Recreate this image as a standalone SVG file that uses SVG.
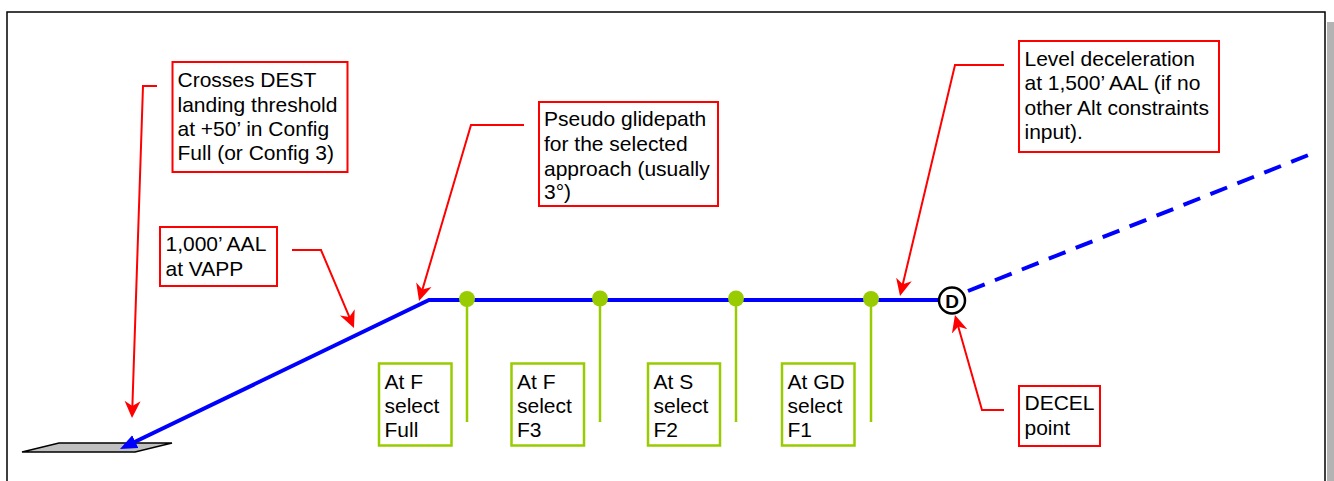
<svg xmlns="http://www.w3.org/2000/svg" width="1334" height="481" viewBox="0 0 1334 481">
<style>
.t{font-family:"Liberation Sans",Arial,sans-serif;font-size:21px;fill:#000}
.rb{fill:#fff;stroke:#ff0000;stroke-width:2}
.gb{fill:#fff;stroke:#99cc00;stroke-width:2.5}
.ld{fill:none;stroke:#ff0000;stroke-width:2}
.gl{stroke:#99cc00;stroke-width:2.5}
.gd{fill:#99cc00}
.bl{fill:none;stroke:#0000ff;stroke-width:4}
</style>
<defs>
<marker id="ra" markerUnits="userSpaceOnUse" viewBox="0 -9 18 18" refX="14" refY="0" markerWidth="18" markerHeight="18" orient="auto">
<path d="M0,-8 L17,0 L0,8 L5,0 z" fill="#ff0000"/>
</marker>
<marker id="ba" markerUnits="userSpaceOnUse" viewBox="0 -8 18 16" refX="2" refY="0" markerWidth="18" markerHeight="16" orient="auto">
<path d="M0,-7 L17,0 L0,7 z" fill="#0000ff"/>
</marker>
</defs>
<rect x="1327" y="22" width="8" height="470" fill="#b3b3b3"/>
<rect x="7" y="12" width="1318" height="480" fill="#fff" stroke="#000" stroke-width="1.5"/>
<g id="runway">
<polygon points="22,452 59,443 172,443 135,452" fill="#c0c0c0" stroke="#000" stroke-width="1.5"/>
</g>
<g id="connectors">
<polyline class="bl" points="968,291 1316,152" stroke-dasharray="18,11"/>
<polyline class="bl" points="940,300 429,300 133.5,442.5" marker-end="url(#ba)"/>
<line class="gl" x1="467" y1="299" x2="467" y2="422"/>
<line class="gl" x1="600" y1="299" x2="600" y2="422"/>
<line class="gl" x1="736" y1="299" x2="736" y2="422"/>
<line class="gl" x1="871" y1="299" x2="871" y2="422"/>
<polyline class="ld" points="157,86 143,86 132.1,415" marker-end="url(#ra)"/>
<polyline class="ld" points="292,250 321,250 352.8,325.2" marker-end="url(#ra)"/>
<polyline class="ld" points="524,125 471,125 419.9,298.1" marker-end="url(#ra)"/>
<polyline class="ld" points="1004,65 955,65 900.7,293.1" marker-end="url(#ra)"/>
<polyline class="ld" points="1004,410 982,410 955.8,317.9" marker-end="url(#ra)"/>
</g>
<g id="dots">
<circle class="gd" cx="467" cy="299" r="8"/>
<circle class="gd" cx="600" cy="298.5" r="8"/>
<circle class="gd" cx="736" cy="298.5" r="8"/>
<circle class="gd" cx="871" cy="299" r="8"/>
</g>
<g id="decel-point">
<circle cx="952" cy="300.5" r="13" fill="#fff" stroke="#000" stroke-width="2.5"/>
<text x="952" y="307.5" text-anchor="middle" style="font-family:'Liberation Sans',Arial,sans-serif;font-size:19px;font-weight:bold">D</text>
</g>
<g id="crosses">
<rect class="rb" x="172.5" y="62" width="175" height="110"/>
<text class="t" x="177.5"><tspan x="177.5" y="87">Crosses DEST</tspan><tspan x="177.5" y="111.5">landing threshold</tspan><tspan x="177.5" y="136">at +50’ in Config</tspan><tspan x="177.5" y="160">Full (or Config 3)</tspan></text>
</g>
<g id="aal1000">
<rect class="rb" x="160" y="227" width="117" height="59"/>
<text class="t"><tspan x="165.5" y="250.5">1,000’ AAL</tspan><tspan x="165.5" y="275.5">at VAPP</tspan></text>
</g>
<g id="pseudo">
<rect class="rb" x="539" y="102" width="179" height="104"/>
<text class="t"><tspan x="544" y="125.5">Pseudo glidepath</tspan><tspan x="544" y="150.5">for the selected</tspan><tspan x="544" y="175.5">approach (usually</tspan><tspan x="544" y="199">3°)</tspan></text>
</g>
<g id="level">
<rect class="rb" x="1019" y="41" width="200" height="111"/>
<text class="t"><tspan x="1024.5" y="65.5">Level deceleration</tspan><tspan x="1024.5" y="90">at 1,500’ AAL (if no</tspan><tspan x="1024.5" y="115">other Alt constraints</tspan><tspan x="1024.5" y="139">input).</tspan></text>
</g>
<g id="decel">
<rect class="rb" x="1019" y="386" width="81" height="60"/>
<text class="t"><tspan x="1024.5" y="410">DECEL</tspan><tspan x="1024.5" y="435">point</tspan></text>
</g>
<g id="full">
<rect class="gb" x="379" y="363.5" width="72.5" height="82"/>
<text class="t"><tspan x="384.5" y="388.5">At F</tspan><tspan x="384.5" y="413">select</tspan><tspan x="384.5" y="437">Full</tspan></text>
</g>
<g id="f3">
<rect class="gb" x="511.5" y="363.5" width="72.5" height="82"/>
<text class="t"><tspan x="517" y="388.5">At F</tspan><tspan x="517" y="413">select</tspan><tspan x="517" y="437">F3</tspan></text>
</g>
<g id="f2">
<rect class="gb" x="648" y="363.5" width="72" height="82"/>
<text class="t"><tspan x="653.5" y="388.5">At S</tspan><tspan x="653.5" y="413">select</tspan><tspan x="653.5" y="437">F2</tspan></text>
</g>
<g id="f1">
<rect class="gb" x="782" y="363.5" width="72.5" height="82"/>
<text class="t"><tspan x="787.5" y="388.5">At GD</tspan><tspan x="787.5" y="413">select</tspan><tspan x="787.5" y="437">F1</tspan></text>
</g>
</svg>
